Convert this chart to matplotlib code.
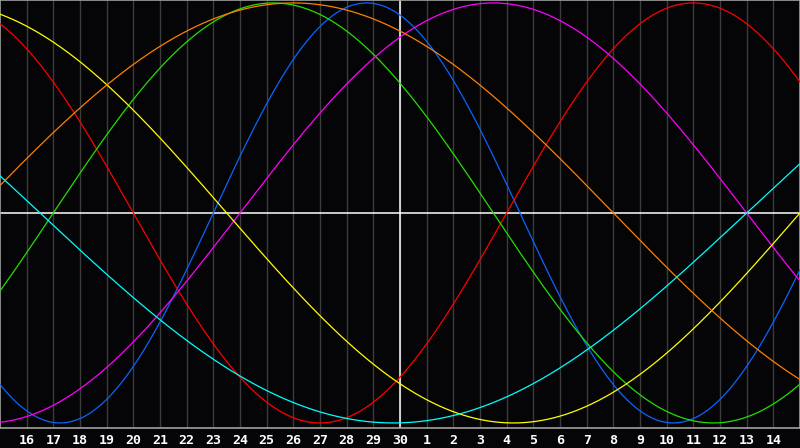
import numpy as np
import matplotlib
matplotlib.use('Agg')
import matplotlib.pyplot as plt

# biorhythm cycles (length in days) and their line colours
cycle_names = ['Physical', 'Emotional', 'Intellectual', 'Intuitive',
               'Aesthetic', 'Awareness', 'Spiritual']
cycle_days = [23, 28, 33, 38, 43, 48, 53]
cycle_colors = ['#0a64ff', '#ff0000', '#22e000', '#ff00ff',
                '#ffff00', '#ff7f00', '#00ffff']

# days alive at the left edge of the chart (day 15)
days_alive_start = 19105
today_index = 15  # day 30, centre of chart

day_labels = [str(d) for d in range(16, 31)] + [str(d) for d in range(1, 15)]
n_days = 30

fig = plt.figure(figsize=(8, 4.48), dpi=100, facecolor='#050507')
ax = fig.add_axes([0, 20 / 448, 1, 428 / 448])
ax.set_facecolor('#050507')

# daily grid
for i in range(1, n_days):
    ax.axvline(i, color='#3c3c3c', lw=1.0, zorder=1)

ax.axhline(0, color='white', lw=1.1, zorder=2)
ax.axvline(today_index, color='white', lw=1.1, zorder=2)

t = np.linspace(0, n_days, 1201)
for name, period, col in zip(cycle_names, cycle_days, cycle_colors):
    ax.plot(t, np.sin(2 * np.pi * (days_alive_start + t) / period),
            color=col, lw=0.9, label=name, zorder=3)

ax.set_xlim(0, n_days)
ax.set_ylim(-1.024, 1.014)
ax.set_xticks(range(1, n_days))
ax.set_xticklabels(day_labels, color='white', fontsize=9.5,
                   fontweight='bold', family='DejaVu Sans Mono')
ax.tick_params(axis='x', length=0, pad=4)
ax.set_yticks([])
for s in ax.spines.values():
    s.set_color('#a0a0a0')
    s.set_linewidth(1.2)

fig.savefig('out.png', dpi=100, facecolor=fig.get_facecolor())
